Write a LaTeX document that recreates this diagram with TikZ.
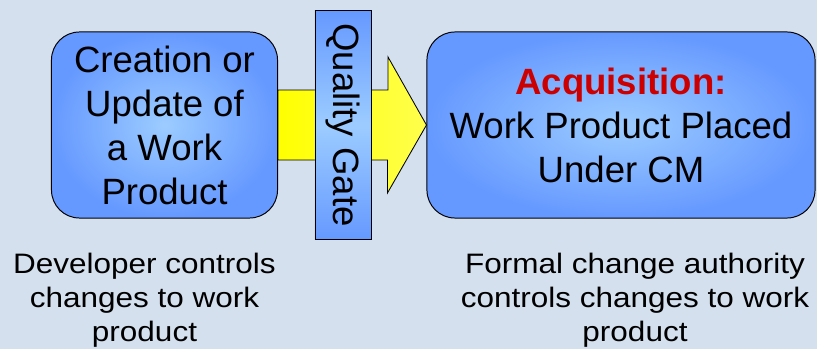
\documentclass[tikz,border=0pt]{standalone}
\usepackage{fontspec}
\setmainfont{Liberation Sans}
\newfontfamily\notefont[FakeStretch=1.12]{Liberation Sans}
\usepackage{xcolor}
\usepackage{tikz}
\usetikzlibrary{positioning,calc}
\definecolor{bgblue}{RGB}{212,224,238}
\definecolor{boxblue}{RGB}{102,153,255}
\definecolor{boxlight}{RGB}{156,204,255}
\definecolor{acqred}{RGB}{204,0,0}

\begin{document}
\begin{tikzpicture}[x=0.025cm,y=-0.025cm,
    stagebox/.style={draw=black, line width=0.7pt, rounded corners=0.7cm, inner color=boxlight, outer color=boxblue,
        align=center, inner sep=0pt, font=\fontsize{26}{31.3}\selectfont},
    gatebox/.style={draw=black, line width=0.7pt, top color=boxblue, bottom color=boxblue, middle color=boxlight,
        inner sep=0pt, font=\fontsize{26}{31.3}\selectfont},
    arrowfill/.style={draw=black, line width=0.6pt, left color=yellow, middle color=yellow!35, right color=yellow!70},
    note/.style={align=center, inner sep=0pt, anchor=north, font=\notefont\fontsize{20}{24.2}\selectfont}]
    % Background
    \fill[bgblue] (0,0) rectangle (817,349);
    % Stages
    \node[stagebox, minimum width=5.65cm, minimum height=4.65cm] (create) at (164.5,125) {Creation or\\Update of\\a Work\\Product};
    \node[stagebox, minimum width=9.7cm, minimum height=4.65cm] (acq) at (621,125) {{\color{acqred}\bfseries Acquisition:}\\Work Product Placed\\Under CM};
    % Fat arrow between stages
    \draw[arrowfill] ($(create.east)+(0,-35)$) -- ++(110,0) -- ++(0,-33) -- (acq.west) -- ++(-39,68) -- ++(0,-33) -- ($(create.east)+(0,35)$) -- cycle;
    % Gate
    \node[gatebox, rotate=-90, minimum width=5.7cm, minimum height=1.4cm] (gate) at (343,125) {Quality Gate};
    % Notes
    \node[note] (devnote) at (144.5,253) {Developer controls\\changes to work\\product};
    \node[note] (cmnote) at (635,253) {Formal change authority\\controls changes to work\\product};
\end{tikzpicture}
\end{document}
